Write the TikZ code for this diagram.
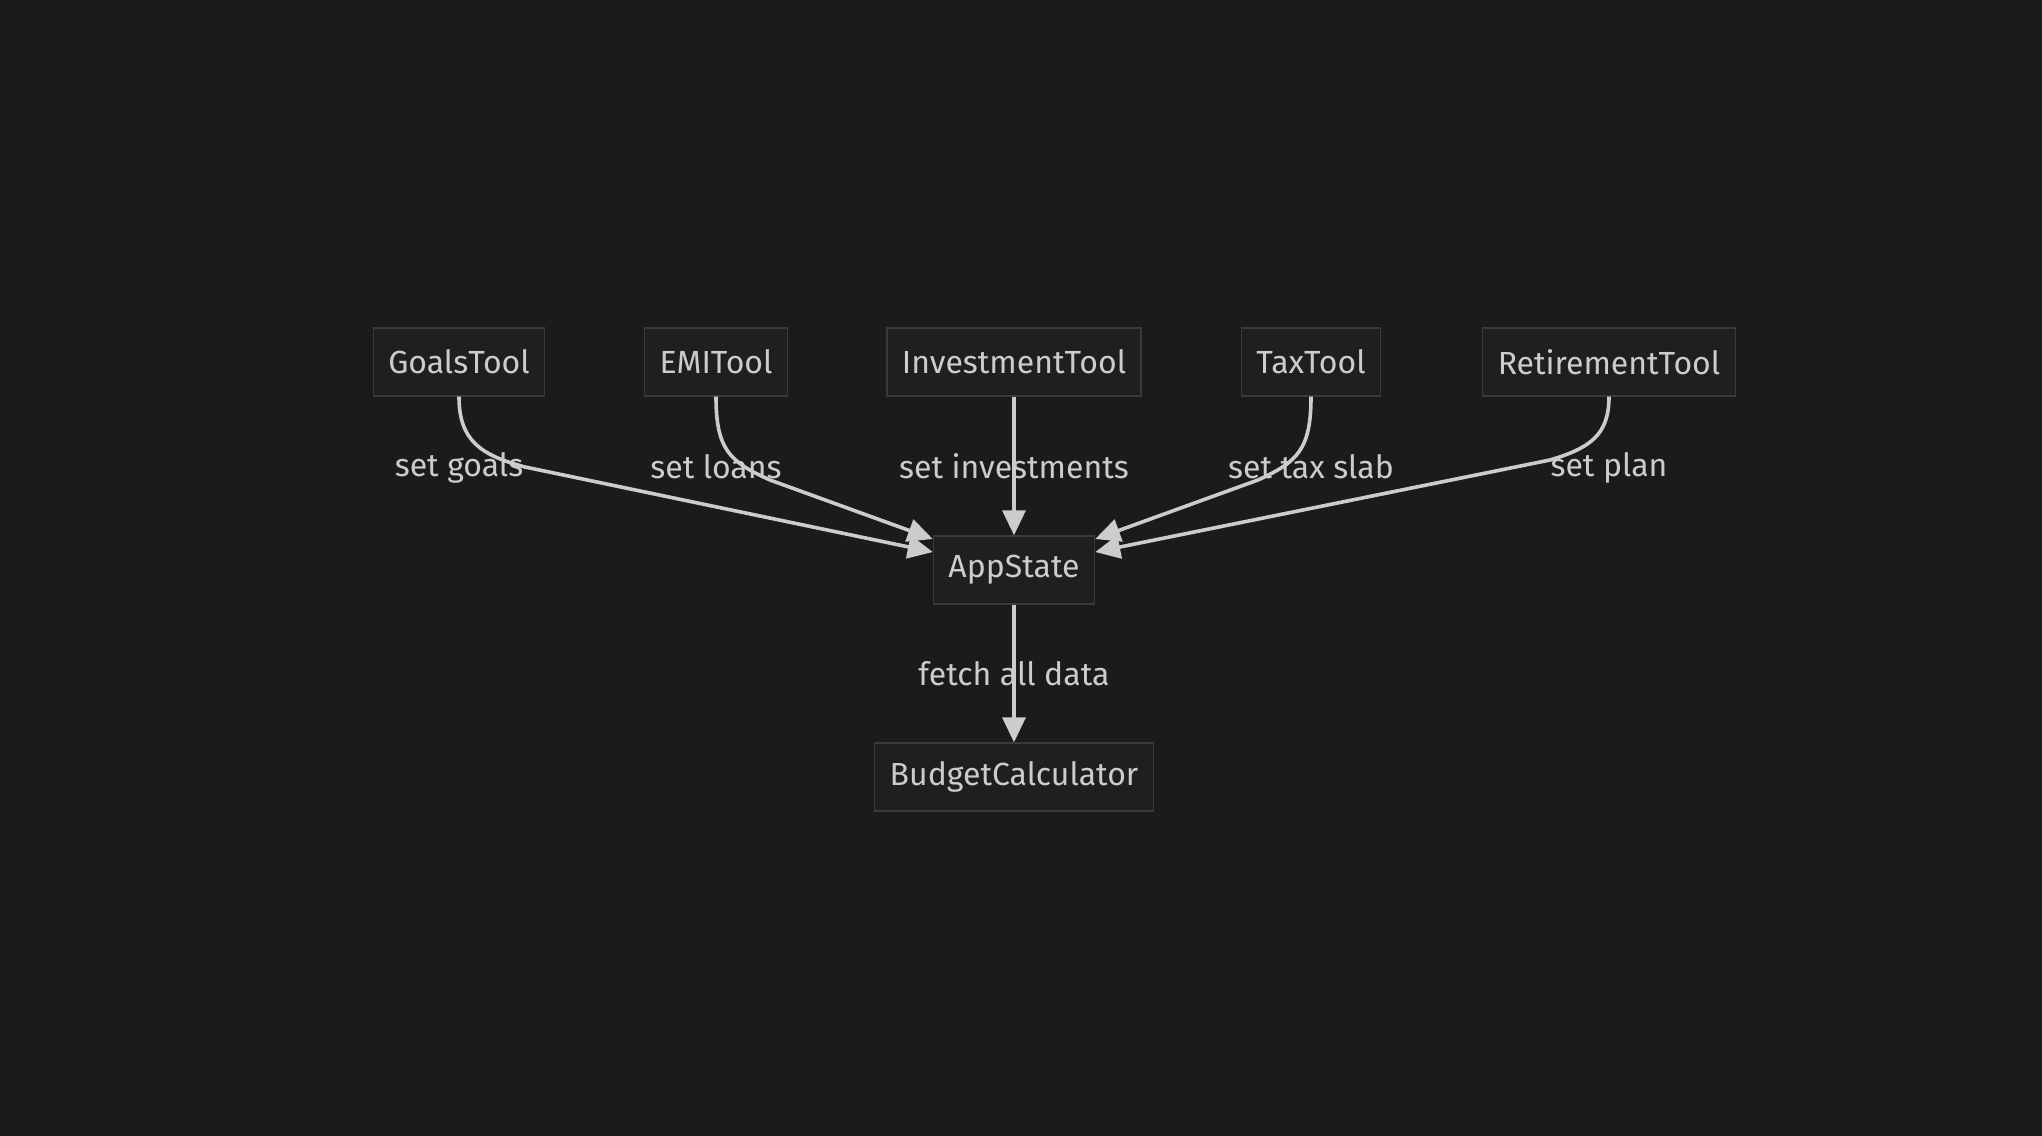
\documentclass[tikz,border=0pt]{standalone}
\usepackage{fontspec}
\setmainfont{Fira Sans}
\usetikzlibrary{arrows.meta,positioning}
\definecolor{bgc}{HTML}{1B1B1B}
\definecolor{boxfill}{HTML}{1F1F1F}
\definecolor{boxline}{HTML}{3A3A3A}
\definecolor{ink}{HTML}{CCCCCC}
\tikzset{
  tool/.style={rectangle,draw=boxline,fill=boxfill,line width=0.7pt,text=ink,
    minimum height=34pt,inner xsep=7.5pt,font=\fontsize{16}{19}\selectfont},
  elabel/.style={text=ink,font=\fontsize{16}{19}\selectfont},
  link/.style={draw=ink,line width=1.8pt,->},
  >={Triangle[length=12.5pt,width=11.5pt]}
}

\begin{document}
\begin{tikzpicture}[x=0.5pt,y=-0.5pt]
\useasboundingbox[fill=bgc] (0,0) rectangle (2042,1136);

\node(goals)[tool] at (459,362){GoalsTool};

\node(emi)[tool] at (716,362){EMITool};

\node(invest)[tool] at (1014,362){InvestmentTool};

\node(tax)[tool] at (1311,362){TaxTool};

\node(retire)[tool] at (1609,362){RetirementTool};

\node(app)[tool] at (1014,570){AppState};

\node(budget)[tool] at (1014,777){BudgetCalculator};

\node(lgoals)[elabel] at (459,468){set goals};

\node(lemi)[elabel] at (716,467){set loans};

\node(linvest)[elabel] at (1014,466){set investments};

\node(ltax)[elabel] at (1311,467){set tax slab};

\node(lretire)[elabel] at (1609,468){set plan};

\node(lfetch)[elabel] at (1014,674){fetch all data};

\draw [link] (goals.south) .. controls (459,440) and (480,455) .. (525,467) -- (app.west |- 0,552);
\draw [link] (emi.south) .. controls (716,450) and (730,462) .. (770,480) -- (app.west |- 0,539);
\draw [link] (invest) -- (app);
\draw [link] (tax.south) .. controls (1311,450) and (1297,462) .. (1258,480) -- (app.east |- 0,539);
\draw [link] (retire.south) .. controls (1609,435) and (1590,448) .. (1550,460) -- (app.east |- 0,552);
\draw [link] (app) -- (budget);

\end{tikzpicture}
\end{document}
